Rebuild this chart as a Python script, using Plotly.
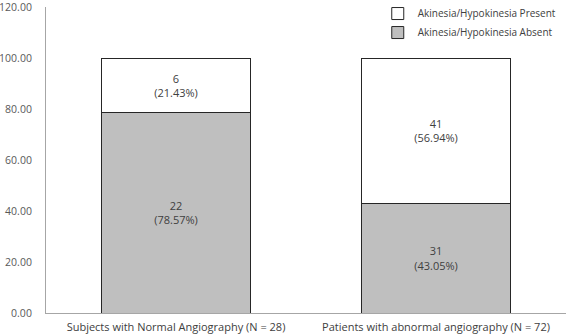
import plotly.graph_objects as go

categories = ["Subjects with Normal Angiography (N = 28)", "Patients with abnormal angiography (N = 72)"]
absent_pct = [78.57, 43.05]
absent_n = [22, 31]
present_pct = [21.43, 56.94]
present_n = [6, 41]
y_ticks = [0, 20, 40, 60, 80, 100, 120]

font = "Open Sans, Liberation Sans, sans-serif"

fig = go.Figure()
fig.add_trace(go.Bar(
    x=categories, y=absent_pct, name="Akinesia/Hypokinesia Absent",
    marker=dict(color="#bfbfbf", line=dict(color="#262626", width=1)),
    text=[f"{n}<br>({p:.2f}%)" for n, p in zip(absent_n, absent_pct)],
    textposition="inside", insidetextanchor="middle",
    textfont=dict(color="#404040", size=11, family=font),
    hoverinfo="skip",
))
fig.add_trace(go.Bar(
    x=categories, y=present_pct, name="Akinesia/Hypokinesia Present",
    marker=dict(color="#ffffff", line=dict(color="#262626", width=1)),
    text=[f"{n}<br>({p:.2f}%)" for n, p in zip(present_n, present_pct)],
    textposition="inside", insidetextanchor="middle",
    textfont=dict(color="#404040", size=11, family=font),
    hoverinfo="skip",
))

fig.update_layout(
    width=567, height=336,
    barmode="stack", bargap=0.43,
    plot_bgcolor="white", paper_bgcolor="white",
    margin=dict(l=46, r=1, t=7, b=23, autoexpand=False),
    font=dict(family=font, size=11, color="#404040"),
    showlegend=True,
    legend=dict(x=0.638, xanchor="left", y=1.026, yanchor="top",
                bgcolor="rgba(0,0,0,0)", font=dict(size=10, color="#404040"),
                itemwidth=30, tracegroupgap=0),
    uniformtext=dict(minsize=11, mode="show"),
)
fig.update_yaxes(
    range=[0, 120], tickvals=y_ticks, ticktext=[f"{v:.2f}" for v in y_ticks],
    showgrid=False, zeroline=False, showline=True, linecolor="#a6a6a6", linewidth=1,
    ticks="", tickfont=dict(size=10.5, color="#595959"), ticklabelstandoff=11,
    automargin=False, ticklabeloverflow="allow",
)
fig.update_xaxes(
    showgrid=False, showline=True, linecolor="#a6a6a6", linewidth=1,
    ticks="", tickfont=dict(size=11, color="#404040"),
    automargin=False, ticklabelstandoff=4, ticklabeloverflow="allow",
)

fig.write_html(
    "out.html",
    config={"displayModeBar": False},
    post_script="document.body.style.margin='0';document.body.style.padding='0';",
)
